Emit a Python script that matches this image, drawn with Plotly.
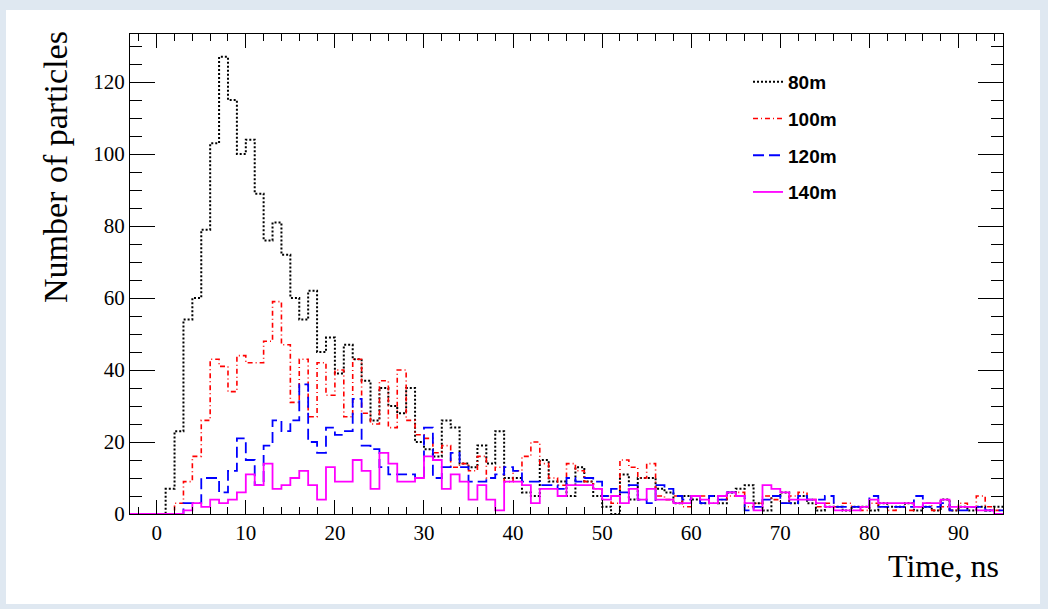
import numpy as np
import plotly.graph_objects as go

# Histogram bins: 1 ns wide, first bin starts at -3 ns
bin_start = -3
bin_width = 1

labels = ["80m", "100m", "120m", "140m"]

counts_80m = [0, 0, 0, 0, 7, 23, 54, 60, 79, 103, 127, 115, 100, 104, 89, 76, 81, 72, 60, 54,
              62, 45, 49, 39, 47, 43, 37, 26, 35, 30, 28, 35, 20, 18, 16, 26, 24, 14, 13, 19,
              14, 23, 10, 10, 6, 5, 15, 9, 9, 5, 13, 9, 5, 2, 0, 11, 4, 10, 10, 7,
              6, 3, 5, 4, 3, 5, 3, 6, 7, 8, 3, 1, 5, 6, 3, 5, 3, 1, 2, 2,
              1, 2, 2, 1, 3, 2, 2, 3, 1, 2, 1, 4, 1, 2, 1, 2, 1, 2]

counts_100m = [0, 0, 0, 0, 0, 3, 9, 16, 26, 43, 41, 34, 44, 42, 42, 48, 59, 47, 31, 43,
               27, 42, 33, 40, 27, 43, 28, 25, 37, 24, 40, 26, 22, 21, 17, 19, 13, 14, 12, 16,
               10, 13, 9, 12, 16, 20, 14, 10, 8, 14, 12, 9, 7, 5, 3, 15, 13, 10, 14, 5,
               4, 5, 2, 5, 5, 3, 4, 5, 6, 2, 3, 5, 4, 3, 5, 6, 4, 2, 3, 2,
               3, 2, 1, 3, 2, 1, 2, 1, 2, 3, 1, 2, 1, 3, 2, 5, 2, 1]

counts_120m = [0, 0, 0, 0, 0, 0, 3, 3, 10, 10, 6, 12, 21, 15, 8, 19, 26, 23, 26, 36,
               20, 17, 24, 22, 23, 32, 19, 18, 13, 11, 11, 11, 10, 24, 10, 13, 17, 13, 9, 9,
               10, 11, 13, 12, 9, 9, 8, 8, 7, 10, 9, 10, 9, 5, 7, 6, 8, 4, 3, 8,
               7, 5, 4, 5, 3, 5, 4, 6, 5, 1, 2, 4, 5, 3, 3, 5, 4, 4, 5, 2,
               2, 2, 2, 5, 2, 2, 2, 2, 5, 2, 2, 3, 1, 1, 2, 2, 1, 1]

counts_140m = [0, 0, 0, 0, 0, 0, 1, 3, 2, 4, 3, 4, 6, 11, 8, 14, 7, 8, 10, 12,
               8, 4, 13, 9, 9, 15, 12, 7, 17, 14, 9, 9, 10, 16, 15, 7, 11, 9, 4, 8,
               4, 1, 9, 9, 8, 3, 7, 7, 5, 8, 8, 8, 7, 4, 5, 3, 7, 4, 7, 4,
               4, 3, 3, 5, 4, 3, 5, 6, 5, 3, 1, 8, 7, 6, 4, 4, 4, 3, 2, 1,
               1, 1, 2, 4, 3, 3, 3, 3, 2, 3, 3, 4, 2, 2, 2, 1, 1, 0]

x_ticks = [0, 10, 20, 30, 40, 50, 60, 70, 80, 90]
y_ticks = [0, 20, 40, 60, 80, 100, 120]

series = [counts_80m, counts_100m, counts_120m, counts_140m]
colors = ["#000000", "#ff0000", "#0000ff", "#ff00ff"]
dashes = ["2px,2px", "5px,3px,1px,3px", "11px,5px", "solid"]
widths = [2, 1.6, 1.8, 1.8]

fig = go.Figure()
for name, vals, col, dsh, w in zip(labels, series, colors, dashes, widths):
    vals = list(vals)
    edges = bin_start + bin_width * np.arange(len(vals) + 1)
    yy = vals + [vals[-1]]
    fig.add_trace(go.Scatter(
        x=edges, y=yy, mode="lines", name=name, legendgroup=name,
        line=dict(color=col, dash=dsh, width=w, shape="hv"),
        hoverinfo="skip",
    ))

ymax = 1.05 * max(counts_80m)

L, R, T, B = 130, 45, 34, 95
W, H = 1048, 609
pw, ph = W - L - R, H - T - B

serif = "Liberation Serif"

fig.update_layout(
    width=W, height=H,
    margin=dict(l=L, r=R, t=T, b=B),
    paper_bgcolor="#dfe8f1",
    plot_bgcolor="white",
    showlegend=True,
    legend=dict(
        x=(748 - L) / pw, y=(514 - 63) / ph, xanchor="left", yanchor="top",
        bgcolor="rgba(0,0,0,0)", borderwidth=0,
        font=dict(family="Liberation Sans", size=19, color="black", weight="bold"),
        tracegroupgap=9,
    ),
    xaxis=dict(
        range=[bin_start, 95], tickvals=x_ticks, ticks="inside", ticklen=14,
        tickwidth=1, tickcolor="black", showline=True, linecolor="black",
        linewidth=1.2, mirror="allticks", showgrid=False, zeroline=False,
        tickfont=dict(family=serif, size=21, color="black"),
        minor=dict(ticks="inside", ticklen=7, dtick=2, tick0=0, tickcolor="black", showgrid=False),
    ),
    yaxis=dict(
        range=[0, ymax], tickvals=y_ticks, ticks="inside", ticklen=25,
        tickwidth=1, tickcolor="black", showline=True, linecolor="black",
        linewidth=1.2, mirror="allticks", showgrid=False, zeroline=False,
        tickfont=dict(family=serif, size=21, color="black"),
        minor=dict(ticks="inside", ticklen=12, dtick=5, tick0=0, tickcolor="black", showgrid=False),
    ),
    shapes=[dict(
        type="rect", xref="paper", yref="paper", layer="below",
        x0=(6 - L) / pw, x1=(1040 - L) / pw,
        y0=(H - B - 604) / ph, y1=(H - B - 10) / ph,
        fillcolor="white", line=dict(width=0),
    )],
    annotations=[
        dict(text="Number of particles", xref="paper", yref="paper",
             x=(56 - L) / pw, y=(514 - 29) / ph, xanchor="center", yanchor="top",
             textangle=-90, showarrow=False,
             font=dict(family=serif, size=34, color="black")),
        dict(text="Time, ns", xref="paper", yref="paper",
             x=(1001 - L) / pw, y=(514 - 566) / ph, xanchor="right", yanchor="middle",
             showarrow=False,
             font=dict(family=serif, size=32, color="black")),
    ],
)

fig.write_html("out.html")
